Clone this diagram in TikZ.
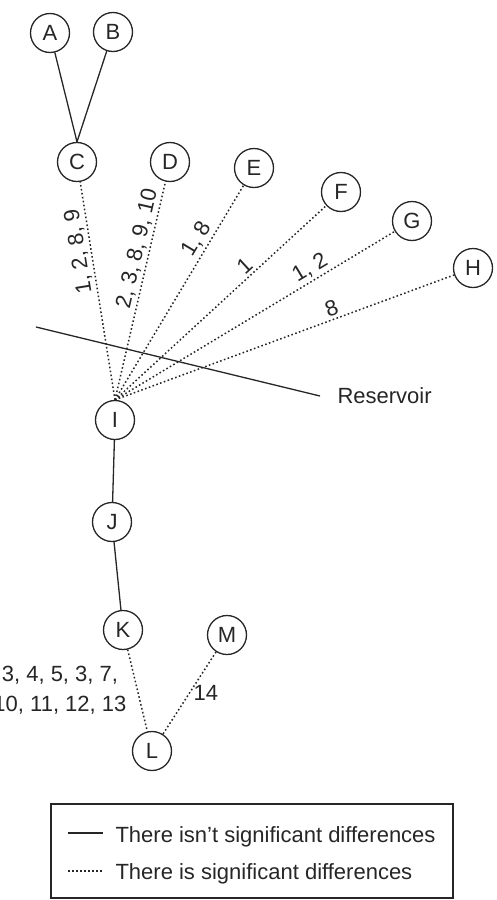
\documentclass[tikz,border=0pt]{standalone}
\usepackage{fontspec}
\setmainfont{Liberation Sans}
\usetikzlibrary{positioning}
\tikzset{station/.style={draw=black!85, circle, line width=1.3pt,
            minimum size=39pt, inner sep=0pt},
    same/.style={draw=black!85, line width=1.3pt},
    differ/.style={draw=black!85, line width=1.5pt, dash pattern=on 1.6pt off 2.4pt},
    sites/.style={sloped, above, inner sep=2.5pt, allow upside down}
}

\begin{document}
\begin{tikzpicture}[x=1pt, y=-1pt, font=\fontsize{22}{30}\selectfont, text=black!85]
      \useasboundingbox (0,0) rectangle (496,900);
      % nodes
      \node[station] (A) at (50,33) {A};
      \node[station] (B) at (113,32) {B};
      \node[station] (C) at (77,162) {C};
      \node[station] (D) at (170,162) {D};
      \node[station] (E) at (254,168) {E};
      \node[station] (F) at (341,192) {F};
      \node[station] (G) at (412,221) {G};
      \node[station] (H) at (473,268) {H};
      \node[station] (I) at (115,420) {I};
      \node[station] (J) at (112,522) {J};
      \node[station] (K) at (123,630) {K};
      \node[station] (M) at (227,635) {M};
      \node[station] (L) at (152,751) {L};
      % edges
      \draw[same] (A) -- (C.north);
      \draw[same] (B) -- (C.north);
      \draw[differ] (I.north) -- node[sites, pos=.69] {1, 2, 8, 9} (C);
      \draw[differ] (I.north) -- node[sites, pos=.68] {2, 3, 8, 9, 10} (D);
      \draw[differ] (I.north) -- node[sites, pos=.72] {1, 8} (E);
      \draw[differ] (I.north) -- node[sites, pos=.65] {1} (F);
      \draw[differ] (I.north) -- node[sites, pos=.72] {1, 2} (G);
      \draw[differ] (I.north) -- node[sites, pos=.65] {8} (H);
      \draw[same] (I) -- (J);
      \draw[same] (J) -- (K);
      \draw[differ] (K) -- node[left=7pt, pos=.5, align=center] {3, 4, 5, 3, 7,\\10, 11, 12, 13} (L);
      \draw[differ] (M) -- node[right, pos=.5] {14} (L);
      % reservoir
      \coordinate (r1) at (36,327);
      \coordinate (r2) at (320,396);
      \draw[same] (r1) -- (r2);
      \node[right=14pt of r2] (res) {Reservoir};
      % legend
      \draw[same] (51,804) rectangle (453,898);
      \coordinate (s1) at (68,833);
      \coordinate (e1) at (103,833);
      \coordinate (s2) at (68,871);
      \coordinate (e2) at (103,871);
      \draw[same] (s1) -- (e1);
      \draw[differ] (s2) -- (e2);
      \node[anchor=base west] (t1) at (112,842) {There isn't significant differences};
      \node[anchor=base west] (t2) at (112,879) {There is significant differences};
\end{tikzpicture}
\end{document}
